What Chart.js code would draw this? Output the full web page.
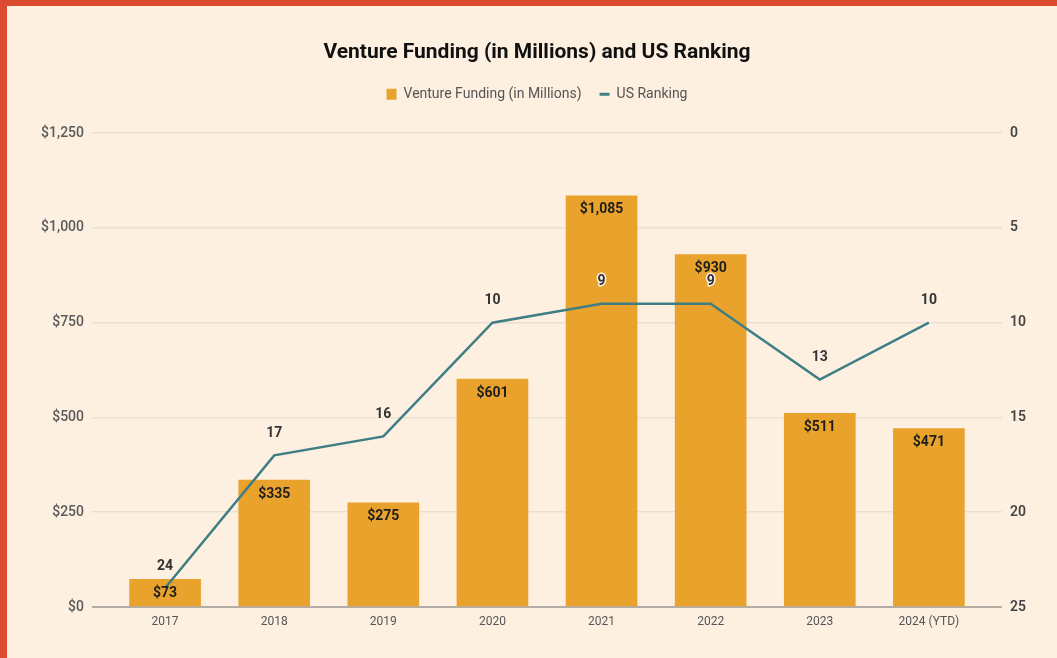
<!DOCTYPE html>
<html>
<head>
<meta charset="utf-8">
<script src="https://cdn.jsdelivr.net/npm/chart.js"></script>
<style>
  html, body { margin: 0; padding: 0; background: #dc4a2f; }
  #wrap { position: absolute; left: 7px; top: 6px; width: 1050px; height: 652px; background: #fdf0e1; }
</style>
</head>
<body>
<div id="wrap"><canvas id="my-chart" width="1050" height="652"></canvas></div>
<script>
const years = ['2017', '2018', '2019', '2020', '2021', '2022', '2023', '2024 (YTD)'];
const funding = [73, 335, 275, 601, 1085, 930, 511, 471];
const ranking = [24, 17, 16, 10, 9, 9, 13, 10];
const fundingTicks = [0, 250, 500, 750, 1000, 1250];
const rankTicks = [0, 5, 10, 15, 20, 25];

const barColor = '#e9a22b';
const lineColor = '#3e7e84';
const bgColor = '#fdf0e1';

// labels on bars and points (no datalabels plugin offline)
const valueLabels = {
    id: 'valueLabels',
    afterDatasetsDraw(chart) {
        const ctx = chart.ctx;
        ctx.save();
        ctx.textAlign = 'center';
        ctx.textBaseline = 'middle';
        ctx.font = 'bold 14px Roboto';
        ctx.fillStyle = '#1e1e1e';
        chart.getDatasetMeta(0).data.forEach((bar, i) => {
            ctx.fillText('$' + funding[i].toLocaleString('en-US'), bar.x, bar.y + 14);
        });
        ctx.lineJoin = 'round';
        ctx.lineWidth = 3;
        ctx.strokeStyle = bgColor;
        ctx.fillStyle = '#333';
        chart.getDatasetMeta(1).data.forEach((pt, i) => {
            ctx.strokeText(String(ranking[i]), pt.x, pt.y - 22);
            ctx.fillText(String(ranking[i]), pt.x, pt.y - 22);
        });
        ctx.restore();
    }
};

// extra room under the legend
const legendGap = {
    id: 'legendGap',
    beforeLayout(chart) {
        const lg = chart.legend;
        if (lg && !lg._gapPatched) {
            const fit = lg.fit;
            lg.fit = function () {
                fit.apply(this, arguments);
                this.height += 22;
            };
            lg._gapPatched = true;
        }
    }
};

const ctx = document.getElementById('my-chart').getContext('2d');
const myChart = new Chart(ctx, {
    data: {
        datasets: [{
            type: 'bar',
            label: 'Venture Funding (in Millions)',
            data: funding.map((v, i) => ({ x: i, y: v })),
            backgroundColor: barColor,
            borderWidth: 0,
            barThickness: 71,
            xAxisID: 'x',
            yAxisID: 'y',
            order: 1
        }, {
            type: 'line',
            label: 'US Ranking',
            data: ranking.map((v, i) => ({ x: i, y: v })),
            borderColor: lineColor,
            backgroundColor: lineColor,
            borderWidth: 2.5,
            pointRadius: 0,
            tension: 0,
            xAxisID: 'x',
            yAxisID: 'yRank',
            order: 0
        }]
    },
    options: {
        responsive: false,
        animation: false,
        layout: { padding: { left: 10, right: 0, top: 0, bottom: 0 } },
        plugins: {
            title: {
                display: true,
                text: 'Venture Funding (in Millions) and US Ranking',
                color: '#111',
                font: { family: 'Roboto', size: 21, weight: 'bold' },
                padding: { top: 34, bottom: 4 }
            },
            legend: {
                display: true,
                labels: {
                    color: '#555',
                    font: { family: 'Roboto', size: 14 },
                    usePointStyle: true,
                    boxHeight: 11,
                    pointStyleWidth: 10,
                    padding: 18,
                    sort: (a, b) => a.datasetIndex - b.datasetIndex,
                    generateLabels(chart) {
                        const items = Chart.defaults.plugins.legend.labels.generateLabels(chart);
                        items.forEach(it => {
                            if (it.datasetIndex === 0) {
                                it.pointStyle = 'rect';
                                it.fillStyle = barColor;
                                it.lineWidth = 0;
                            } else {
                                it.pointStyle = 'line';
                                it.strokeStyle = lineColor;
                                it.lineWidth = 3;
                            }
                        });
                        return items;
                    }
                }
            },
            tooltip: { enabled: false }
        },
        scales: {
            x: {
                type: 'linear',
                offset: false,
                min: -0.67,
                max: 7.67,
                grid: { display: false, drawTicks: false },
                border: { display: false },
                afterFit(scale) { scale.height = 51; },
                ticks: {
                    stepSize: 1,
                    includeBounds: false,
                    autoSkip: false,
                    maxRotation: 0,
                    padding: 8,
                    color: '#555',
                    font: { family: 'Roboto', size: 12 },
                    callback: (v) => years[v] !== undefined ? years[v] : ''
                }
            },
            y: {
                position: 'left',
                min: fundingTicks[0],
                max: fundingTicks[fundingTicks.length - 1],
                afterFit(scale) { scale.width = 75; },
                afterBuildTicks(scale) { scale.ticks = fundingTicks.map(v => ({ value: v })); },
                border: { display: false },
                grid: {
                    drawTicks: false,
                    color: (c) => c.tick && c.tick.value === 0 ? '#b3ada6' : '#e9e0d3',
                    lineWidth: (c) => c.tick && c.tick.value === 0 ? 2 : 1.5
                },
                ticks: {
                    padding: 8,
                    color: '#5a5a5a',
                    font: { family: 'Roboto', size: 14, weight: '500' },
                    callback: (v) => '$' + v.toLocaleString('en-US')
                }
            },
            yRank: {
                position: 'right',
                reverse: true,
                min: rankTicks[0],
                max: rankTicks[rankTicks.length - 1],
                afterFit(scale) { scale.width = 55; },
                afterBuildTicks(scale) { scale.ticks = rankTicks.map(v => ({ value: v })); },
                border: { display: false },
                grid: { display: false, drawTicks: false },
                ticks: {
                    padding: 8,
                    color: '#444',
                    font: { family: 'Roboto', size: 14, weight: '600' }
                }
            }
        }
    },
    plugins: [valueLabels, legendGap]
});
</script>
</body>
</html>
